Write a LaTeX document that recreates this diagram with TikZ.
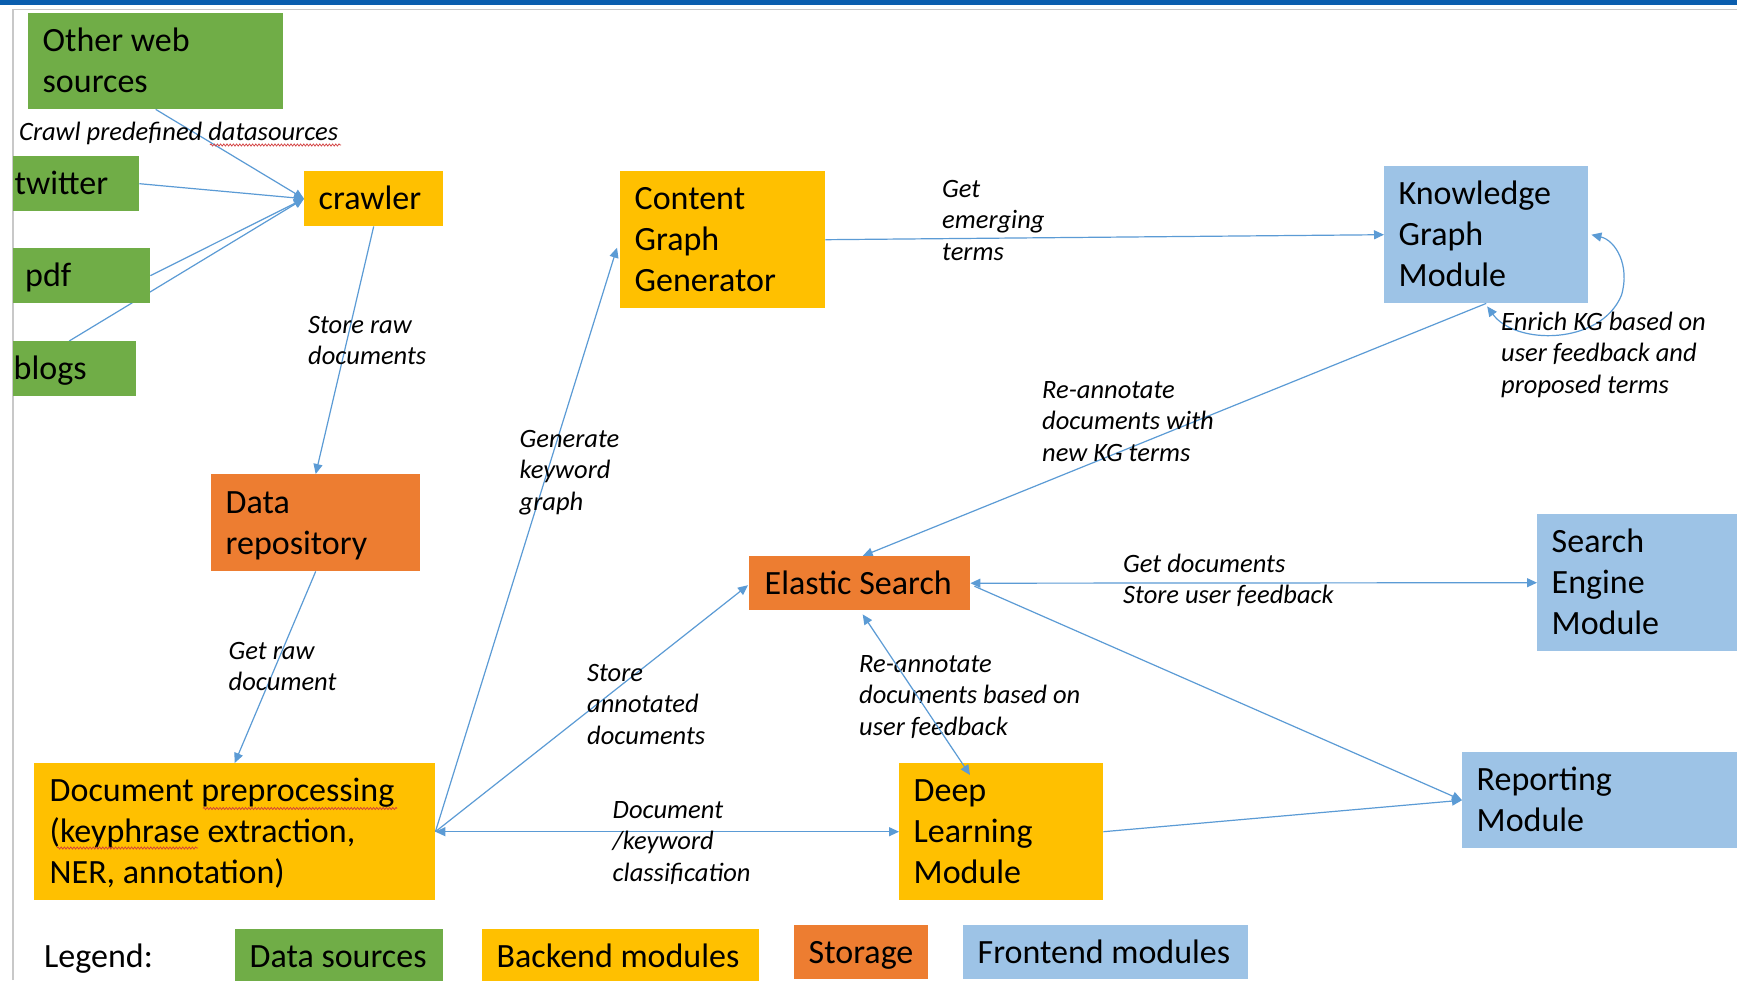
\documentclass[tikz,border=0pt]{standalone}
\usepackage{fontspec}
\setmainfont{Carlito}
\usetikzlibrary{arrows.meta,calc,backgrounds,decorations.pathmorphing}

\definecolor{srcgreen}{HTML}{70AD47}
\definecolor{backgold}{HTML}{FFC000}
\definecolor{storeorange}{HTML}{ED7D31}
\definecolor{frontblue}{HTML}{9DC3E6}
\definecolor{linkblue}{HTML}{5B9BD5}
\definecolor{barblue}{HTML}{0A5EAE}
\definecolor{framegray}{HTML}{C8C8C8}
\definecolor{spellred}{HTML}{D23C3C}

% fixed line box for the text inside the coloured blocks
\newcommand\bs{\rule[-9.5pt]{0pt}{41pt}}
\newcommand\nl{\\\bs}

\begin{document}
\begin{tikzpicture}[x=1pt,y=-1pt,
  box/.style={anchor=north west, inner xsep=14.5pt, inner ysep=0pt,
    align=flush left, text=black, font=\fontsize{34pt}{41pt}\selectfont},
  lbl/.style={anchor=base west, inner sep=0pt, align=left, text=black,
    font=\fontsize{26.5pt}{31.5pt}\selectfont\itshape},
  tip/.tip={Triangle[length=10pt,width=9pt]},
  conn/.style={draw=linkblue, line width=1.2pt, -tip},
  conn2/.style={draw=linkblue, line width=1.2pt, tip-tip},
  squiggle/.style={draw=spellred, line width=0.7pt, decorate,
    decoration={snake, amplitude=1.1pt, segment length=3.2pt}}
]
\useasboundingbox (0,0) rectangle (1737,980);

\begin{scope}
\clip (0,0) rectangle (1737,980);

% data sources
\node[box, fill=srcgreen, text width=226pt, minimum height=96pt] (ows) at (28,13) {\bs Other web\nl sources};
\begin{scope}
\clip (13,0) rectangle (300,980);
\node[box, fill=srcgreen, text width=110pt, minimum height=55pt] (twitter) at (0,156) {\bs twitter};
\node[box, fill=srcgreen, text width=110.5pt, minimum height=55pt] (pdf) at (10.5,248) {\bs pdf};
\node[box, fill=srcgreen, text width=108pt, minimum height=55pt] (blogs) at (-1,341) {\bs blogs};
\end{scope}

% backend modules
\node[box, fill=backgold, text width=110pt, minimum height=55pt] (crawler) at (304,171) {\bs crawler};
\node[box, fill=backgold, text width=176pt, minimum height=137pt] (cgg) at (620,171) {\bs Content\nl Graph\nl Generator};
\node[box, fill=backgold, text width=370pt, minimum height=137pt, inner xsep=15.5pt] (dp) at (34,763) {\bs Document preprocessing\nl (keyphrase extraction,\nl NER, annotation)};
\node[box, fill=backgold, text width=175pt, minimum height=137pt] (dlm) at (899,763) {\bs Deep\nl Learning\nl Module};

% storage
\node[box, fill=storeorange, text width=180pt, minimum height=97pt] (dr) at (211,474) {\bs Data\nl repository};
\node[box, fill=storeorange, text width=190pt, minimum height=54pt, inner xsep=15.5pt] (es) at (749,556) {\bs Elastic Search};

% frontend modules
\node[box, fill=frontblue, text width=175pt, minimum height=137pt] (kgm) at (1384,166) {\bs Knowledge\nl Graph\nl Module};
\node[box, fill=frontblue, text width=234pt, minimum height=137pt] (sem) at (1537,514) {\bs Search\nl Engine\nl Module};
\node[box, fill=frontblue, text width=309pt, minimum height=96pt] (rm) at (1462,752) {\bs Reporting\nl Module};

% legend
\node[box, text width=150pt, inner xsep=0pt, minimum height=54pt] (legend) at (44,929) {\bs Legend:};
\node[box, fill=srcgreen, text width=179pt, minimum height=54pt] (lgsrc) at (235,929) {\bs Data sources};
\node[box, fill=backgold, text width=248pt, minimum height=54pt] (lgback) at (482,929) {\bs Backend modules};
\node[box, fill=storeorange, text width=105pt, minimum height=54pt] (lgstore) at (794,925) {\bs Storage};
\node[box, fill=frontblue, text width=256pt, minimum height=54pt] (lgfront) at (963,925) {\bs Frontend modules};
\end{scope}

% spelling marks under unknown words
\draw[squiggle] (210,145) -- (341,145);
\draw[squiggle] (203,808.5) -- (397,808.5);
\draw[squiggle] (57,848) -- (198,848);

% connector labels (anchored on the baseline of their last line)
\node[lbl] (lcrawl) at (19,140) {Crawl predefined datasources};
\node[lbl] (lstoreraw) at (308,364.5) {Store raw\\documents};
\node[lbl] (lgetraw) at (228.5,690.5) {Get raw\\document};
\node[lbl] (lgenkw) at (519.5,510) {Generate\\keyword\\graph};
\node[lbl] (lstoreann) at (587,744) {Store\\annotated\\documents};
\node[lbl] (lclass) at (612.5,881) {Document\\/keyword\\classification};
\node[lbl] (lemerg) at (942,260) {Get\\emerging\\terms};
\node[lbl] (lreann) at (1042,461) {Re-annotate\\documents with\\new KG terms};
\node[lbl] (lenrich) at (1501,393) {Enrich KG based on\\user feedback and\\proposed terms};
\node[lbl] (lgetdocs) at (1123,603.5) {Get documents\\Store user feedback};
\node[lbl] (lreannfb) at (859,735) {Re-annotate\\documents based on\\user feedback};

% this connector ends inside its target block, so it stays on top
\draw[conn2] ($(es.south)+(3,4)$) -- ($(dlm.north west)+(71,12)$);

\begin{scope}[on background layer]
\fill[white] (0,0) rectangle (1737,980);
\fill[barblue] (0,0) rectangle (1737,4.5);
\draw[framegray, line width=1.2pt] (13,980) -- (13,9.5) -- (1737,9.5);

\draw[conn] (ows.south) -- (crawler.west);
\draw[conn] (twitter.east) -- (crawler.west);
\draw[conn] (pdf.east) -- (crawler.west);
\draw[conn] ($(blogs.north)+(1.5,0)$) -- (crawler.west);
\draw[conn] (crawler.south) -- (dr.north);
\draw[conn] (dr.south) -- (dp.north);
\draw[conn] (dp.east) -- ($(cgg.west)+(-3,8)$);
\draw[conn] (dp.east) -- ($(es.west)+(-1,2)$);
\draw[conn2] (dp.east) -- (dlm.west);
\draw[conn] (cgg.east) -- (kgm.west);
\draw[conn] (kgm.south) -- ($(es.north)+(3,0)$);
\draw[conn2] ($(kgm.south)+(1,3)$) .. controls ($(kgm.south east)+(-73,42)$) and ($(kgm.south east)+(12,42)$) .. ($(kgm.south east)+(33,-8)$)
   .. controls ($(kgm.south east)+(42,-38)$) and ($(kgm.south east)+(27,-63)$) .. ($(kgm.east)+(3,0)$);
\draw[conn2] (es.east) -- (sem.west);
\draw[conn] ($(es.east)+(4,3)$) -- (rm.west);
\draw[conn] (dlm.east) -- (rm.west);
\end{scope}
\end{tikzpicture}
\end{document}
